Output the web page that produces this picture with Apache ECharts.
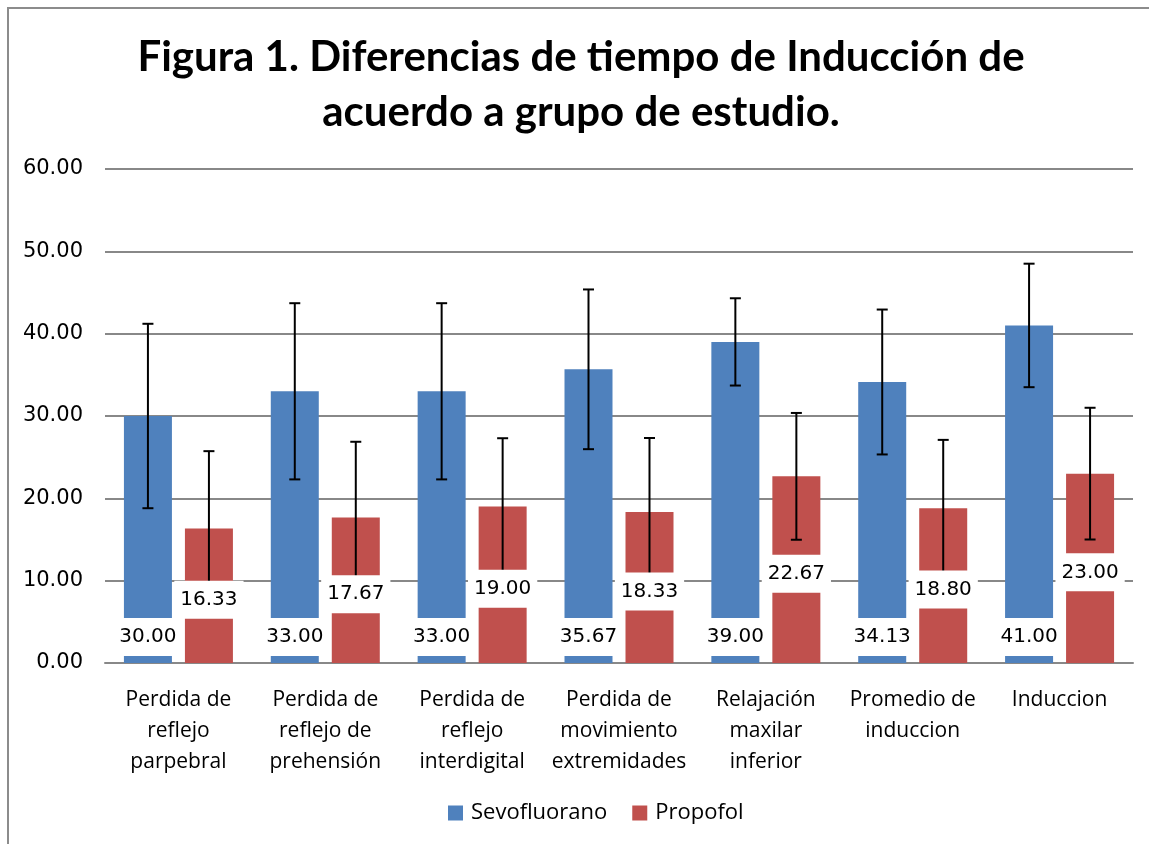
<!DOCTYPE html>
<html><head><meta charset="utf-8">
<script src="https://cdn.jsdelivr.net/npm/echarts@6/dist/echarts.min.js"></script>
<style>html,body{margin:0;padding:0;background:#fff}#c{width:1149px;height:844px}</style>
</head><body><div id="c"></div>
<script>
const categories = ['Perdida de\nreflejo\nparpebral','Perdida de\nreflejo de\nprehensión','Perdida de\nreflejo\ninterdigital','Perdida de\nmovimiento\nextremidades','Relajación\nmaxilar\ninferior','Promedio de\ninduccion','Induccion'];
const sevofluorano = [30.00, 33.00, 33.00, 35.67, 39.00, 34.13, 41.00];
const propofol = [16.33, 17.67, 19.00, 18.33, 22.67, 18.80, 23.00];
const sevoError = [11.2, 10.7, 10.7, 9.7, 5.3, 8.8, 7.5];
const propError = [9.4, 9.2, 8.3, 9.0, 7.7, 8.3, 8.0];
const yTicks = [0, 10, 20, 30, 40, 50, 60];
const titleText = 'Figura 1. Diferencias de tiempo de Inducción de\nacuerdo a grupo de estudio.';

const BAR_W = 48, GAP = 13, SHIFT = (BAR_W + GAP) / 2;
const numFont = 'DejaVu Sans';
const chart = echarts.init(document.getElementById('c'));

function errSeries(vals, errs, shift, name){
  return {
    type:'custom', name:name, z:3, silent:true,
    data: vals.map((v,i)=>[i, v, errs[i]]),
    encode:{x:0, y:1},
    renderItem:function(params, api){
      const i=api.value(0), v=api.value(1), e=api.value(2);
      const top=api.coord([i, v+e]), bot=api.coord([i, v-e]);
      const x=top[0]+shift, cw=5.5;
      const st={stroke:'#000', lineWidth:2};
      return {type:'group', children:[
        {type:'line', shape:{x1:x,y1:top[1],x2:x,y2:bot[1]}, style:st},
        {type:'line', shape:{x1:x-cw,y1:top[1],x2:x+cw,y2:top[1]}, style:st},
        {type:'line', shape:{x1:x-cw,y1:bot[1],x2:x+cw,y2:bot[1]}, style:st}
      ]};
    }
  };
}
// value labels: sevofluorano at bar base, propofol at bar middle
function labelSeries(vals, shift, atBase, name){
  return {
    type:'custom', name:name, z:4, silent:true,
    data: vals.map((v,i)=>[i, v]),
    encode:{x:0, y:1},
    renderItem:function(params, api){
      const i=api.value(0), v=api.value(1);
      const base=api.coord([i, 0]);
      let y;
      if (atBase) { y = base[1] - 7 - 19; }
      else { y = api.coord([i, v/2])[1] + 4; }
      return {type:'text', x: base[0]+shift, y: y, style:{
        text: v.toFixed(2), fill:'#000', font:'20px "DejaVu Sans"',
        align:'center', verticalAlign:'middle',
        backgroundColor:'#fff', padding:[9,6]
      }};
    }
  };
}
chart.setOption({
  animation:false,
  graphic:[
    {type:'rect', shape:{x:8,y:8,width:1200,height:900}, style:{fill:'none', stroke:'#8c8c8c', lineWidth:2}, z:-1},
    {type:'text', x:581, y:30, style:{text:titleText, align:'center', verticalAlign:'top',
      font:'bold 42px Lato', lineHeight:55, fill:'#000'}}
  ],
  legend:{top:797, left:443, icon:'rect', itemWidth:15, itemHeight:15, itemGap:25,
    data:['Sevofluorano','Propofol'],
    textStyle:{fontFamily:'Open Sans', fontSize:22, color:'#000', padding:[0,0,0,3]}},
  grid:{left:105, right:16, top:169, bottom:181},
  xAxis:{type:'category', data:categories,
    axisLine:{lineStyle:{color:'#888', width:2}}, axisTick:{show:false},
    axisLabel:{interval:0, fontFamily:'Open Sans', fontSize:21, lineHeight:31, color:'#000', margin:22}},
  yAxis:{type:'value', min:0, max:60, interval:10,
    axisLine:{show:false}, axisTick:{show:false},
    splitLine:{lineStyle:{color:'#888', width:2}},
    axisLabel:{fontFamily:numFont, fontSize:21, color:'#000', margin:22, formatter:v=>yTicks.includes(v)?v.toFixed(2):''}},
  series:[
    {name:'Sevofluorano', type:'bar', data:sevofluorano, barWidth:BAR_W, barGap:(GAP/BAR_W*100)+'%', z:2,
      itemStyle:{color:'#4F81BD'}},
    {name:'Propofol', type:'bar', data:propofol, barWidth:BAR_W, z:2,
      itemStyle:{color:'#C0504D'}},
    errSeries(sevofluorano, sevoError, -SHIFT, 'errS'),
    errSeries(propofol, propError, SHIFT, 'errP'),
    labelSeries(sevofluorano, -SHIFT, true, 'labS'),
    labelSeries(propofol, SHIFT, false, 'labP')
  ]
});
</script></body></html>
